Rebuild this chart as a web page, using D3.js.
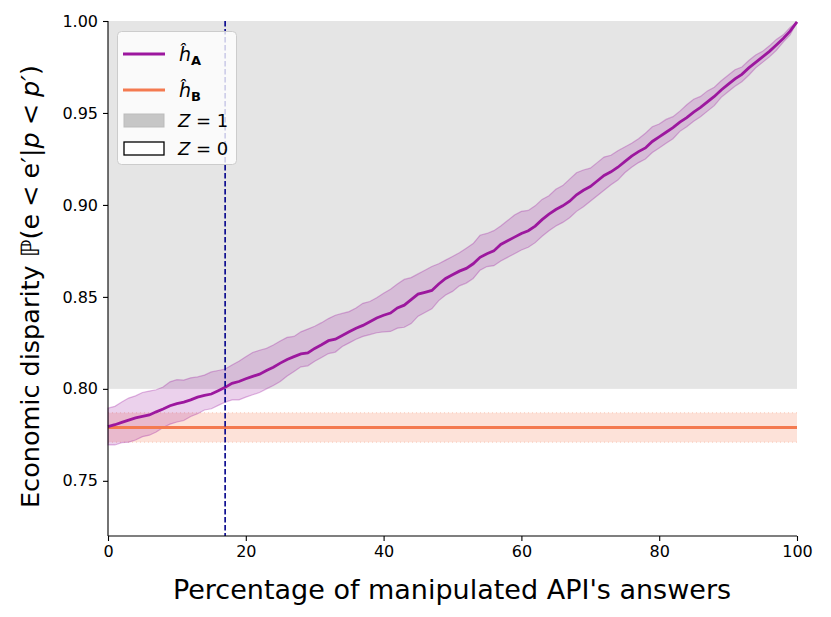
<!DOCTYPE html>
<html><head><meta charset="utf-8">
<script src="https://cdn.jsdelivr.net/npm/d3@7"></script>
<style>body{margin:0;background:#fff}svg{display:block;font-family:"DejaVu Sans",sans-serif}</style>
</head><body><svg id="c" width="831" height="617"></svg>
<script>
// percentage of manipulated answers
const xs = d3.range(0, 101);
// mean economic disparity of h_A
const meanA = [
0.7795,0.7805,0.7818,0.7830,0.7842,0.7850,0.7858,0.7875,0.7890,0.7908,
0.7920,0.7928,0.7940,0.7955,0.7965,0.7972,0.7990,0.8008,0.8030,0.8040,
0.8055,0.8068,0.8080,0.8100,0.8118,0.8140,0.8160,0.8175,0.8190,0.8195,
0.8220,0.8240,0.8262,0.8270,0.8290,0.8310,0.8330,0.8345,0.8365,0.8385,
0.8400,0.8412,0.8440,0.8455,0.8485,0.8515,0.8525,0.8535,0.8570,0.8600,
0.8620,0.8640,0.8655,0.8680,0.8715,0.8735,0.8750,0.8785,0.8805,0.8825,
0.8845,0.8860,0.8885,0.8920,0.8950,0.8975,0.8995,0.9020,0.9055,0.9080,
0.9100,0.9130,0.9160,0.9180,0.9205,0.9235,0.9265,0.9290,0.9310,0.9345,
0.9370,0.9395,0.9420,0.9450,0.9475,0.9505,0.9530,0.9560,0.9590,0.9625,
0.9655,0.9685,0.9710,0.9745,0.9775,0.9805,0.9835,0.9870,0.9905,0.9945,
0.9995];
// upper / lower deviation of the confidence band (x 0.001)
const upDevA = [
10,10,11,12,12,13,13,12,12,13, 13,12,12,11,11,12,11,10,10,11,
12,13,13,12,12,12,12,11,12,13, 12,12,12,13,12,11,11,12,11,11,
12,13,13,14,12,11,12,13,11,10, 10,10,11,11,12,11,11,10,11,12,
12,11,11,11,10,11,11,12,12,11, 10,10,10,9,9,8,7,7,8,8,
7,7,6,6,7,7,6,6,5,5, 5,5,4,4,4,3,3,3,2,2, 0];
const loDevA = [
10,11,11,12,12,11,11,11,10,10, 10,10,9,9,8,8,8,8,9,10,
10,10,10,10,10,10,9,8,7,7, 7,7,7,7,6,6,6,6,7,8,
9,10,11,12,13,12,11,10,9,9, 9,8,8,8,7,7,8,9,9,9,
9,9,9,9,9,9,9,9,9,9, 8,8,8,7,7,6,6,6,6,6,
6,6,6,5,5,5,5,5,5,4, 4,4,4,4,3,3,3,3,2,2, 0];
// h_B constant disparity and its band
const meanB = 0.779, loB = 0.771, upB = 0.787;
// Z = 1 region
const zRegion = [0.80, 1.00];
const threshold = 17;
const xTicks = [0, 20, 40, 60, 80, 100];
const yTicks = [0.75, 0.80, 0.85, 0.90, 0.95, 1.00];

const svg = d3.select("#c");
const L = 108, R = 797, T = 21, B = 536;
const x = d3.scaleLinear().domain([0, 100]).range([L, R]);
const y = d3.scaleLinear().domain([0.72, 1.0]).range([B, T]);

const purple = "#9c179e", orange = "#f47a50";

// Z=1 shaded region
svg.append("rect").attr("x", x(0)).attr("y", y(zRegion[1]))
  .attr("width", x(100) - x(0)).attr("height", y(zRegion[0]) - y(zRegion[1]))
  .attr("fill", "#e5e5e5");

const dataA = xs.map((v, i) => ({x: v, m: meanA[i], lo: meanA[i] - loDevA[i] / 1000, hi: meanA[i] + upDevA[i] / 1000}));

// h_B band
svg.append("rect").attr("x", x(0)).attr("y", y(upB)).attr("width", x(100) - x(0))
  .attr("height", y(loB) - y(upB)).attr("fill", orange).attr("fill-opacity", 0.22);
[loB, upB].forEach(v => svg.append("line").attr("x1", x(0)).attr("x2", x(100))
  .attr("y1", y(v)).attr("y2", y(v)).attr("stroke", orange).attr("stroke-opacity", 0.35)
  .attr("stroke-width", 1).attr("stroke-dasharray", "1,3"));

// h_A band
svg.append("path").datum(dataA)
  .attr("d", d3.area().x(d => x(d.x)).y0(d => y(d.lo)).y1(d => y(d.hi)))
  .attr("fill", purple).attr("fill-opacity", 0.2)
  .attr("stroke", purple).attr("stroke-opacity", 0.3).attr("stroke-width", 1.2);

// h_B line
svg.append("line").attr("x1", x(0)).attr("x2", x(100)).attr("y1", y(meanB)).attr("y2", y(meanB))
  .attr("stroke", orange).attr("stroke-width", 2.8);

// h_A line
svg.append("path").datum(dataA)
  .attr("d", d3.line().x(d => x(d.x)).y(d => y(d.m)))
  .attr("fill", "none").attr("stroke", purple).attr("stroke-width", 2.8);

// threshold line
svg.append("line").attr("x1", x(threshold)).attr("x2", x(threshold)).attr("y1", T).attr("y2", B)
  .attr("stroke", "#00008b").attr("stroke-width", 1.6).attr("stroke-dasharray", "5.5,2.5");

// axes
const xa = svg.append("g").attr("transform", `translate(0,${B})`)
  .call(d3.axisBottom(x).tickValues(xTicks).tickSize(5).tickPadding(5).tickFormat(d3.format("d")));
const ya = svg.append("g").attr("transform", `translate(${L},0)`)
  .call(d3.axisLeft(y).tickValues(yTicks).tickSize(5).tickPadding(5).tickFormat(d3.format(".2f")));
[xa, ya].forEach(g => {
  g.selectAll("text").attr("font-size", 16).attr("font-family", "DejaVu Sans").attr("fill", "#000");
  g.selectAll("line,path").attr("stroke", "#000").attr("stroke-width", 1.1);
});
ya.select(".domain").attr("d", `M0,${B}V${T - 0}`);
xa.select(".domain").attr("d", `M${L},0H${R}`);

// axis labels
svg.append("text").attr("x", 452).attr("y", 599).attr("text-anchor", "middle")
  .attr("font-size", 27).text("Percentage of manipulated API's answers");
const yl = svg.append("text").attr("transform", `translate(39,508) rotate(-90)`)
  .attr("text-anchor", "start").attr("font-size", 25.5);
yl.append("tspan").text("Economic disparity");
yl.append("tspan").attr("dx", 8).attr("font-style", "italic").text("ℙ");
yl.append("tspan").text("(e");
yl.append("tspan").attr("dx", 7).text("<");
yl.append("tspan").attr("dx", 7).text("e′|");
yl.append("tspan").attr("font-style", "italic").text("p");
yl.append("tspan").attr("dx", 7).text("<");
yl.append("tspan").attr("dx", 7).attr("font-style", "italic").text("p′");
yl.append("tspan").text(")");

// legend
const lg = svg.append("g");
lg.append("rect").attr("x", 117.5).attr("y", 31.5).attr("width", 119).attr("height", 133)
  .attr("rx", 4).attr("fill", "#fff").attr("fill-opacity", 0.8).attr("stroke", "#ccc").attr("stroke-width", 1);
const rows = [54, 90, 120, 148];
const hatLabel = (yy, sub) => {
  const t = lg.append("text").attr("x", 179).attr("y", yy + 7).attr("font-size", 19);
  t.append("tspan").attr("font-style", "italic").text("ĥ");
  t.append("tspan").attr("font-weight", "bold").attr("font-size", 13).attr("dy", 4).text(sub);
};
lg.append("line").attr("x1", 123).attr("x2", 165).attr("y1", rows[0]).attr("y2", rows[0])
  .attr("stroke", purple).attr("stroke-width", 2.8);
hatLabel(rows[0], "A");
lg.append("line").attr("x1", 123).attr("x2", 165).attr("y1", rows[1]).attr("y2", rows[1])
  .attr("stroke", orange).attr("stroke-width", 2.8);
hatLabel(rows[1], "B");
lg.append("rect").attr("x", 124).attr("y", rows[2] - 6).attr("width", 40).attr("height", 13)
  .attr("fill", "#c6c6c6").attr("stroke", "#bbb").attr("stroke-width", 1);
lg.append("rect").attr("x", 124).attr("y", rows[3] - 6).attr("width", 40).attr("height", 13)
  .attr("fill", "#fff").attr("stroke", "#000").attr("stroke-width", 1.3);
[[rows[2], "1"], [rows[3], "0"]].forEach(([yy, v]) => {
  const t = lg.append("text").attr("x", 178).attr("y", yy + 6.5).attr("font-size", 18);
  t.append("tspan").attr("font-style", "italic").text("Z");
  t.append("tspan").text(" = " + v);
});
</script></body></html>
